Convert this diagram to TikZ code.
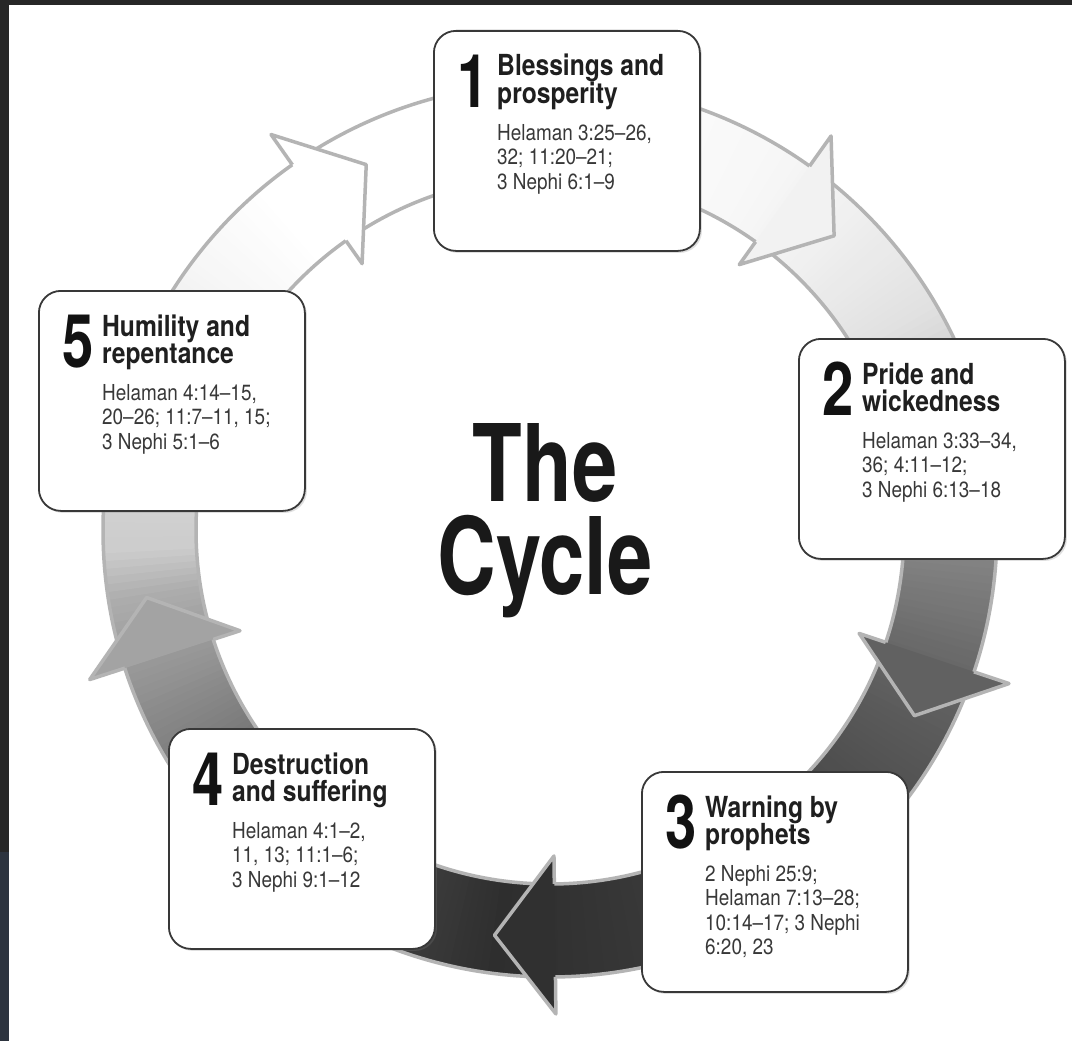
\documentclass[tikz,border=0pt]{standalone}
\usepackage{fontspec}
\usetikzlibrary{shadows}
\newfontfamily\reffont[FakeStretch=0.86]{TeX Gyre Heros}
\newfontfamily\headfont[FakeStretch=0.85]{TeX Gyre Heros}
\newfontfamily\bigfont[FakeStretch=0.76]{TeX Gyre Heros}
\definecolor{ringedge}{HTML}{B4B4B4}
\definecolor{frametop}{HTML}{272727}
\definecolor{framelow}{HTML}{2D343F}
\tikzset{
  stagebox/.style={draw=black!78, line width=1.8pt, fill=white, rounded corners=22pt,
    minimum width=266pt, minimum height=220pt, anchor=north west, inner sep=0pt,
    drop shadow={shadow xshift=2pt, shadow yshift=-2pt, opacity=0.25}},
  numtext/.style={font=\bigfont\bfseries\fontsize{74}{74}\selectfont, text=black!93, inner sep=0pt, anchor=base west},
  headtext/.style={font=\headfont\bfseries\fontsize{29}{27}\selectfont, text=black!88, inner sep=0pt, anchor=base west},
  reftext/.style={font=\reffont\fontsize{22}{24}\selectfont, text=black!78, inner sep=0pt, anchor=base west},
  bigtitle/.style={font=\bigfont\bfseries\fontsize{107}{93}\selectfont, text=black!90, inner sep=0pt, align=center, anchor=north},
  ringline/.style={draw=ringedge, line width=3.5pt, line join=round},
}
\newcommand\stage[7]{%
  \node[stagebox] (#1) at (#2,#3) {};
  \node[numtext] (#1num) at ([shift={(24,-77)}]#1.north west) {#4};
  \node[headtext] (#1ta) at ([shift={(64,-46)}]#1.north west) {#5};
  \node[headtext] (#1tb) at ([shift={(64,-73)}]#1.north west) {#6};
  \foreach \t [count=\i from 0] in {#7} {
    \node[reftext] (#1r\i) at ([shift={(64,{-110-24.5*\i})}]#1.north west) {\t};
  }
}
\newcommand\arrowhead[2]{%
  \pgfmathsetmacro\hb{#1+8.5}
  \pgfmathsetmacro\hd{100-#2}
  \fill[black!\hd] (\hb:484pt) -- (#1:409pt) -- (\hb:326pt) -- cycle;
  \draw[ringline] (\hb:447pt) -- (\hb:484pt) -- (#1:409pt) -- (\hb:326pt) -- (\hb:354pt);
}
\begin{document}
\begin{tikzpicture}[x=1pt,y=1pt]
\useasboundingbox (0,0) rectangle (1072,-1041);
\fill[white] (0,0) rectangle (1072,-1041);
% frame
\fill[frametop] (0,0) rectangle (1072,-5);
\fill[frametop] (0,0) rectangle (9,-852);
\fill[framelow] (0,-852) rectangle (9,-1041);
% ring
\begin{scope}[shift={(550,-530)}]
\foreach \a/\ga/\b/\gb in {130/100/90/100, 90/100/60/97, 60/97/46/94, 46/94/30/88,
   30/88/12/72, 12/72/-3/52, -3/52/-18/41, -18/41/-27/36, -27/36/-45/29,
   -45/29/-70/23, -70/23/-97/18, -97/18/-110/24, -110/24/-130/36, -130/36/-150/50,
   -150/50/-162/60, -162/60/-171/68, -171/68/-177/80, -177/80/-195/86,
   -195/86/-215/96, -215/96/-230/100}{
  \pgfmathtruncatemacro\N{abs(\a-\b)}
  \foreach \k in {1,...,\N}{
    \pgfmathsetmacro\th{\a-(\k-1)}
    \pgfmathsetmacro\te{\th-1.4}
    \pgfmathsetmacro\dk{100-(\ga+(\gb-\ga)*(\k-0.5)/\N)}
    \fill[black!\dk] (\th:354pt) arc[start angle=\th, end angle=\te, radius=354pt]
      -- (\te:447pt) arc[start angle=\te, end angle=\th, radius=447pt] -- cycle;
  }
}
\draw[ringline] (0,0) circle[radius=447pt];
\draw[ringline] (0,0) circle[radius=354pt];
\arrowhead{116.7}{100}
\arrowhead{46}{95}
\arrowhead{-27}{38}
\arrowhead{-97.8}{19}
\arrowhead{-170.5}{64}
\end{scope}
% title
\node[bigtitle] (title) at (545,-423) {The\\Cycle};
% stages
\stage{b1}{433}{-30}{1}{Blessings and}{prosperity}{{Helaman 3:25–26,},{32; 11:20–21;},{3 Nephi 6:1–9}}
\stage{b2}{798}{-338}{2}{Pride and}{wickedness}{{Helaman 3:33–34,},{36; 4:11–12;},{3 Nephi 6:13–18}}
\stage{b3}{641}{-771}{3}{Warning by}{prophets}{{2 Nephi 25:9;},{Helaman 7:13–28;},{10:14–17; 3 Nephi},{6:20, 23}}
\stage{b4}{168}{-728}{4}{Destruction}{and suffering}{{Helaman 4:1–2,},{11, 13; 11:1–6;},{3 Nephi 9:1–12}}
\stage{b5}{38}{-290}{5}{Humility and}{repentance}{{Helaman 4:14–15,},{20–26; 11:7–11, 15;},{3 Nephi 5:1–6}}
\end{tikzpicture}
\end{document}
